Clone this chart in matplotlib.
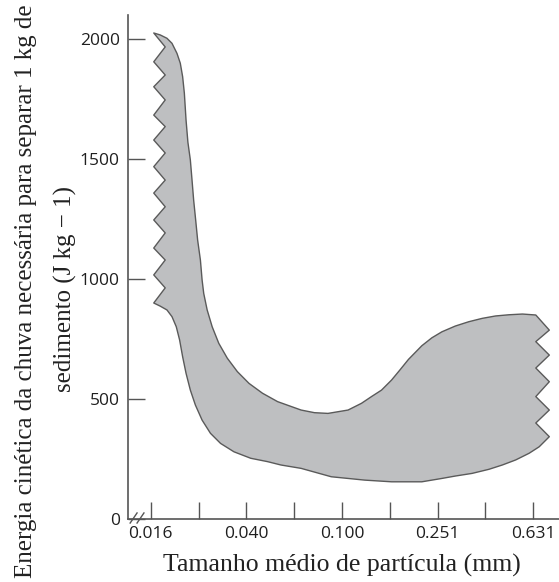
import matplotlib
matplotlib.use("Agg")
import matplotlib.pyplot as plt

# zigzag do lado esquerdo (corte), de cima para baixo
left_x = [0.0163, 0.0182] * 10 + [0.0163]
left_y = [2025, 1967, 1905, 1850, 1801, 1746, 1683, 1635, 1579, 1525, 1468,
          1412, 1358, 1301, 1246, 1192, 1129, 1079, 1017, 963, 900]

# curva inferior, da esquerda para a direita
low_x = [0.01734, 0.01851, 0.01943, 0.02025, 0.02091, 0.02153, 0.02225,
         0.02319, 0.02434, 0.02597, 0.02815, 0.03102, 0.03530, 0.04150,
         0.04879, 0.05551, 0.06741, 0.09016, 0.1245, 0.1612, 0.2158,
         0.2618, 0.2979, 0.3502, 0.4117, 0.4686, 0.5329, 0.6070, 0.6687]
low_y = [887, 871, 843, 801, 746, 676, 607, 537, 475, 412, 357, 315, 280,
         253, 239, 225, 211, 176, 162, 155, 155, 169, 179, 190, 207, 225,
         246, 274, 301]

# zigzag do lado direito, de baixo para cima
right_x = [0.737, 0.647] * 5
right_y = [343, 400, 454, 510, 572, 629, 683, 739, 787, 850]

# curva superior, da direita para a esquerda
up_x = [0.5689, 0.4998, 0.4391, 0.3861, 0.3392, 0.2979, 0.2618, 0.2377,
        0.2158, 0.1897, 0.1747, 0.1612, 0.1463, 0.1328, 0.1206, 0.1060,
        0.08733, 0.07666, 0.06741, 0.05376, 0.04648, 0.04082, 0.03648,
        0.03311, 0.03050, 0.02862, 0.02727, 0.02638, 0.02597, 0.02555,
        0.02488, 0.02441, 0.02394, 0.02357, 0.02319, 0.02265, 0.02225,
        0.02189, 0.02153, 0.02105, 0.02039, 0.01943, 0.01851, 0.01734]
up_y = [854, 851, 846, 836, 822, 804, 780, 755, 722, 665, 621, 579, 537,
        510, 482, 454, 440, 443, 454, 489, 524, 565, 614, 670, 732, 801,
        871, 940, 996, 1079, 1162, 1246, 1329, 1412, 1496, 1570, 1662, 1774,
        1843, 1899, 1940, 1982, 2003, 2017]

tick_pos = [10 ** (-1.8 + 0.2 * k) for k in range(9)]
tick_lbl = ["0.016", "", "0.040", "", "0.100", "", "0.251", "", "0.631"]
ytick_pos = [0, 500, 1000, 1500, 2000]

fig = plt.figure(figsize=(5.59, 5.82), dpi=100)
ax = fig.add_axes([128 / 559, 1 - 519 / 582, 431 / 559, 504 / 582])

xs = left_x + low_x + right_x + up_x
ys = left_y + low_y + right_y + up_y
ax.fill(xs, ys, facecolor="#bebfc1", edgecolor="#5a5a5a", linewidth=1.0,
        joinstyle="round")

ax.set_xscale("log")
ax.set_xlim(10 ** -1.8956, 10 ** -0.092)
ax.set_ylim(0, 2100)
ax.set_xticks(tick_pos)
ax.set_xticklabels(tick_lbl)
ax.minorticks_off()
ax.set_yticks(ytick_pos)

for s in ["top", "right"]:
    ax.spines[s].set_visible(False)
for s in ["left", "bottom"]:
    ax.spines[s].set_color("#555555")
    ax.spines[s].set_linewidth(1.2)

ax.tick_params(direction="in", length=12, width=1, color="#555555",
               labelsize=12.5, labelcolor="#1f1f1f")
ax.tick_params(axis="y", pad=6)
ax.tick_params(axis="x", pad=5)
for t in ax.get_xticklabels() + ax.get_yticklabels():
    t.set_family("Open Sans")

# marca de quebra do eixo
for x0 in [0.005, 0.021]:
    ax.plot([x0, x0 + 0.016], [-0.008, 0.012], color="#555555", lw=1,
            transform=ax.transAxes, clip_on=False)

fig.text(342 / 559, 1 - 565 / 582, "Tamanho médio de partícula (mm)",
         ha="center", va="center", fontsize=18.5, family="Liberation Serif",
         color="#222222")
fig.text(26 / 559, 1 - 291 / 582,
         "Energia cinética da chuva necessária para separar 1 kg de",
         rotation=90, ha="center", va="center", fontsize=18,
         family="Liberation Serif", color="#222222")
fig.text(65 / 559, 1 - 289 / 582, "sedimento (J kg − 1)",
         rotation=90, ha="center", va="center", fontsize=18,
         family="Liberation Serif", color="#222222")

fig.savefig("out.png", dpi=100)
